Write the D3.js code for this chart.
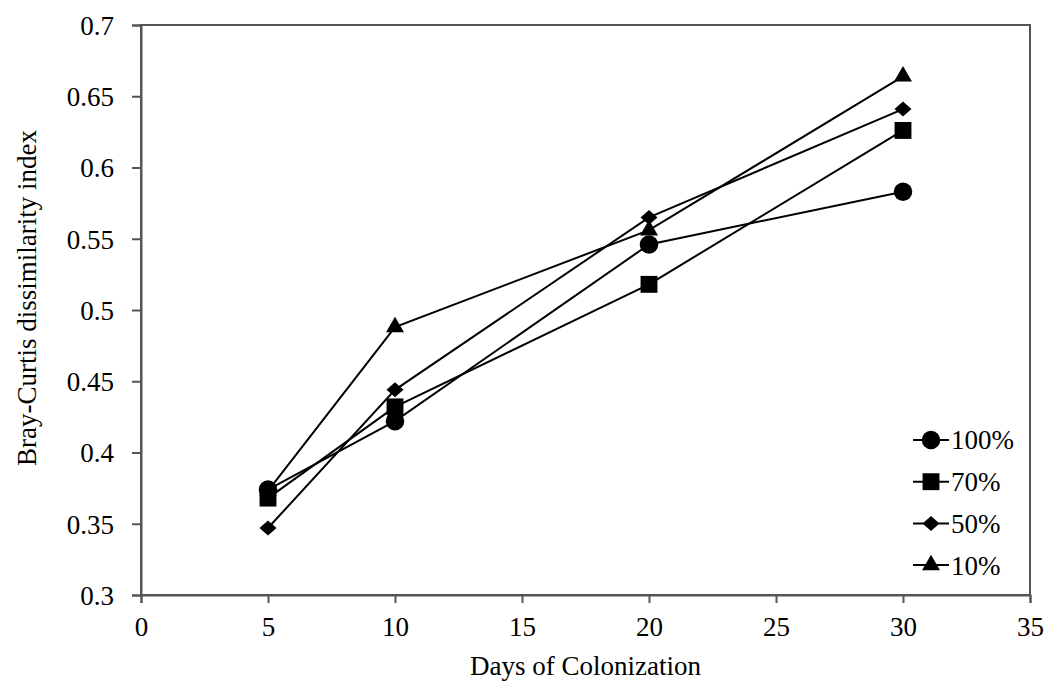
<!DOCTYPE html>
<html>
<head>
<meta charset="utf-8">
<script src="https://cdn.jsdelivr.net/npm/d3@7"></script>
<style>
  body { margin: 0; background: #fff; }
  svg text { font-family: "Liberation Serif", "Times New Roman", serif; fill: #000; }
</style>
</head>
<body>
<div id="chart"></div>
<script>
// chart data
var days = [5, 10, 20, 30];
var seriesNames = ["100%", "70%", "50%", "10%"];
var series100 = [0.374, 0.422, 0.546, 0.583];
var series70 = [0.368, 0.432, 0.518, 0.626];
var series50 = [0.347, 0.444, 0.565, 0.641];
var series10 = [0.373, 0.488, 0.556, 0.664];
var xTicks = [0, 5, 10, 15, 20, 25, 30, 35];
var yTicks = [0.3, 0.35, 0.4, 0.45, 0.5, 0.55, 0.6, 0.65, 0.7];
var symbols = ["circle", "square", "diamond", "triangle"];

var w = 1054, h = 688;
var margin = {left: 141, right: 24, top: 25, bottom: 93};
var serif = '"Liberation Serif", "Times New Roman", serif';

var svg = d3.select("#chart").append("svg")
  .attr("width", w).attr("height", h);

var x = d3.scaleLinear().domain([0, 35]).range([margin.left, w - margin.right]);
var y = d3.scaleLinear().domain([0.3, 0.7]).range([h - margin.bottom, margin.top]);

// plot frame
svg.append("rect")
  .attr("x", x(0)).attr("y", y(0.7))
  .attr("width", x(35) - x(0)).attr("height", y(0.3) - y(0.7))
  .attr("fill", "none").attr("stroke", "#555").attr("stroke-width", 2);

// axes
var yAxis = svg.append("g")
  .attr("transform", "translate(" + x(0) + ",0)")
  .call(d3.axisLeft(y).tickValues(yTicks).tickSize(9).tickPadding(18)
    .tickFormat(function(d) { return String(+d.toFixed(2)); }));
var xAxis = svg.append("g")
  .attr("transform", "translate(0," + y(0.3) + ")")
  .call(d3.axisBottom(x).tickValues(xTicks).tickSize(8).tickPadding(14));

[yAxis, xAxis].forEach(function(g) {
  g.attr("font-family", serif);
  g.select(".domain").attr("stroke", "#555").attr("stroke-width", 2);
  g.selectAll(".tick line").attr("stroke", "#555").attr("stroke-width", 2);
  g.selectAll(".tick text").style("font-size", "27px")
    .style("font-family", serif).attr("fill", "#000");
});
yAxis.selectAll(".tick text").attr("dy", "0.35em");

// axis titles
svg.append("text")
  .attr("x", (x(0) + x(35)) / 2).attr("y", 675)
  .attr("text-anchor", "middle")
  .style("font-family", serif)
  .style("font-size", "27px")
  .text("Days of Colonization");

svg.append("text")
  .attr("transform", "translate(36," + 298 + ") rotate(-90)")
  .attr("text-anchor", "middle")
  .style("font-family", serif)
  .style("font-size", "27px")
  .text("Bray-Curtis dissimilarity index");

// series
var allSeries = [series100, series70, series50, series10];
var symbolTypes = {
  circle: d3.symbolCircle,
  square: d3.symbolSquare,
  diamond: d3.symbolSquare,
  triangle: d3.symbolTriangle
};
var symbolSizes = { circle: 270, square: 285, diamond: 145, triangle: 140 };
// diamond is a square turned 45 degrees and squashed a bit
function extra(s) { return s === "diamond" ? " scale(1,0.88) rotate(45)" : ""; }

var line = d3.line()
  .x(function(d, i) { return x(days[i]); })
  .y(function(d) { return y(d); });

allSeries.forEach(function(vals, k) {
  svg.append("path")
    .datum(vals)
    .attr("d", line)
    .attr("fill", "none")
    .attr("stroke", "#000")
    .attr("stroke-width", 2);
});

allSeries.forEach(function(vals, k) {
  var s = symbols[k];
  svg.append("g").selectAll("path")
    .data(vals)
    .enter().append("path")
    .attr("transform", function(d, i) {
      return "translate(" + x(days[i]) + "," + y(d) + ")" + extra(s);
    })
    .attr("d", d3.symbol().type(symbolTypes[s]).size(symbolSizes[s]))
    .attr("fill", "#000");
});

// legend
var legend = svg.append("g").attr("transform", "translate(913,440)");
seriesNames.forEach(function(name, k) {
  var s = symbols[k];
  var g = legend.append("g").attr("transform", "translate(0," + (k * 41.7) + ")");
  g.append("line").attr("x1", 0).attr("x2", 36).attr("y1", 0).attr("y2", 0)
    .attr("stroke", "#000").attr("stroke-width", 2);
  g.append("path")
    .attr("transform", "translate(18,0)" + extra(s))
    .attr("d", d3.symbol().type(symbolTypes[s]).size(symbolSizes[s]))
    .attr("fill", "#000");
  g.append("text").attr("x", 38).attr("y", 0).attr("dy", "0.35em")
    .style("font-family", serif)
    .style("font-size", "27px").text(name);
});
</script>
</body>
</html>
